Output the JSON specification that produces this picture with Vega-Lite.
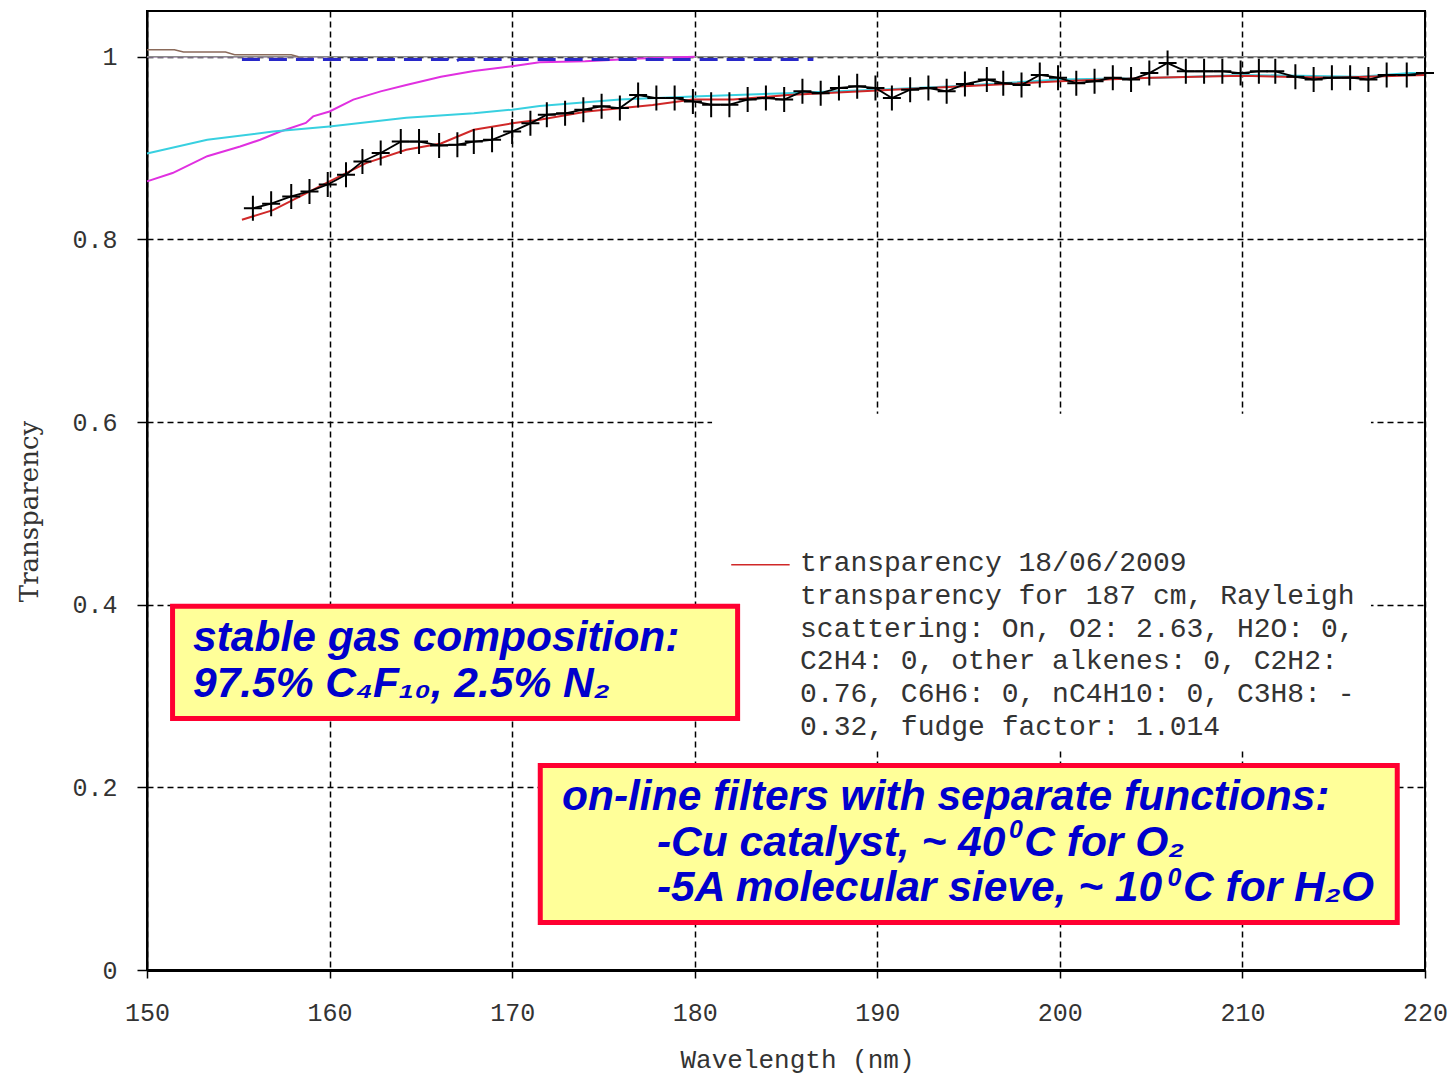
{
  "$schema": "https://vega.github.io/schema/vega-lite/v6.json",
  "width": 1278,
  "height": 959,
  "autosize": {"type": "none"},
  "padding": {"left": 147, "top": 11, "right": 24, "bottom": 104},
  "background": "white",
  "config": {
    "view": {"stroke": "black", "strokeWidth": 2},
    "axis": {
      "grid": true, "gridColor": "black", "gridDash": [6, 4], "gridWidth": 1.5, "gridOpacity": 1,
      "domainColor": "black", "tickColor": "black", "tickWidth": 1.5,
      "labelFont": "Liberation Mono", "labelFontSize": 25, "labelColor": "#333333",
      "labelFlush": false, "labelOverlap": false,
      "titleFontWeight": "normal", "titleColor": "#333333"
    }
  },
  "datasets": {
    "curves": [
      {"s": "gray", "wl": 150, "t": 1.0}, {"s": "gray", "wl": 220, "t": 1.0},
      {"s": "violet", "wl": 150, "t": 1.0}, {"s": "violet", "wl": 160, "t": 1.0},
      {"s": "brown", "wl": 150, "t": 1.0075}, {"s": "brown", "wl": 151.5, "t": 1.0075}, {"s": "brown", "wl": 152, "t": 1.005},
      {"s": "brown", "wl": 154.3, "t": 1.005}, {"s": "brown", "wl": 154.8, "t": 1.002}, {"s": "brown", "wl": 157.9, "t": 1.002}, {"s": "brown", "wl": 158.3, "t": 1.0},
      {"s": "blue", "wl": 155.2, "t": 0.997}, {"s": "blue", "wl": 166.5, "t": 0.997}, {"s": "blue", "wl": 166.8, "t": 0.994}, {"s": "blue", "wl": 167.1, "t": 0.997}, {"s": "blue", "wl": 186.5, "t": 0.997},
      {"s": "magenta", "wl": 150, "t": 0.8635}, {"s": "magenta", "wl": 151.4, "t": 0.8726}, {"s": "magenta", "wl": 153.3, "t": 0.891},
      {"s": "magenta", "wl": 155.1, "t": 0.9017}, {"s": "magenta", "wl": 156.2, "t": 0.909}, {"s": "magenta", "wl": 157.3, "t": 0.918},
      {"s": "magenta", "wl": 158.7, "t": 0.9274}, {"s": "magenta", "wl": 159.1, "t": 0.9346}, {"s": "magenta", "wl": 160, "t": 0.94},
      {"s": "magenta", "wl": 161.3, "t": 0.953}, {"s": "magenta", "wl": 162.8, "t": 0.962}, {"s": "magenta", "wl": 164.2, "t": 0.969},
      {"s": "magenta", "wl": 166.1, "t": 0.978}, {"s": "magenta", "wl": 167.9, "t": 0.9842}, {"s": "magenta", "wl": 170, "t": 0.9896},
      {"s": "magenta", "wl": 171.5, "t": 0.994}, {"s": "magenta", "wl": 174, "t": 0.995}, {"s": "magenta", "wl": 177, "t": 0.998}, {"s": "magenta", "wl": 180, "t": 1.0},
      {"s": "cyan", "wl": 150, "t": 0.894}, {"s": "cyan", "wl": 153.3, "t": 0.909}, {"s": "cyan", "wl": 156.9, "t": 0.918},
      {"s": "cyan", "wl": 160, "t": 0.9236}, {"s": "cyan", "wl": 164.2, "t": 0.933}, {"s": "cyan", "wl": 167.9, "t": 0.938},
      {"s": "cyan", "wl": 170, "t": 0.942}, {"s": "cyan", "wl": 171.5, "t": 0.946}, {"s": "cyan", "wl": 175.9, "t": 0.953},
      {"s": "cyan", "wl": 179.9, "t": 0.9565}, {"s": "cyan", "wl": 185, "t": 0.96}, {"s": "cyan", "wl": 190, "t": 0.9639},
      {"s": "cyan", "wl": 194.1, "t": 0.9675}, {"s": "cyan", "wl": 200, "t": 0.975}, {"s": "cyan", "wl": 205.5, "t": 0.977},
      {"s": "cyan", "wl": 210, "t": 0.98}, {"s": "cyan", "wl": 216.4, "t": 0.978}, {"s": "cyan", "wl": 219.2, "t": 0.982}, {"s": "cyan", "wl": 220, "t": 0.982},
      {"s": "red", "wl": 155.2, "t": 0.8215}, {"s": "red", "wl": 156.9, "t": 0.832}, {"s": "red", "wl": 160, "t": 0.8635},
      {"s": "red", "wl": 162, "t": 0.8835}, {"s": "red", "wl": 164.2, "t": 0.898}, {"s": "red", "wl": 166.1, "t": 0.905},
      {"s": "red", "wl": 167.9, "t": 0.92}, {"s": "red", "wl": 170, "t": 0.927}, {"s": "red", "wl": 171.5, "t": 0.931},
      {"s": "red", "wl": 174.1, "t": 0.94}, {"s": "red", "wl": 177.7, "t": 0.947}, {"s": "red", "wl": 179.9, "t": 0.953},
      {"s": "red", "wl": 182.1, "t": 0.953}, {"s": "red", "wl": 185.1, "t": 0.958}, {"s": "red", "wl": 190, "t": 0.963},
      {"s": "red", "wl": 195, "t": 0.968}, {"s": "red", "wl": 200, "t": 0.973}, {"s": "red", "wl": 205, "t": 0.977},
      {"s": "red", "wl": 210, "t": 0.979}, {"s": "red", "wl": 215, "t": 0.977}, {"s": "red", "wl": 220, "t": 0.98}
    ],
    "crosses": [
      {"wl": 155.8, "t": 0.834}, {"wl": 156.8, "t": 0.839}, {"wl": 157.9, "t": 0.847}, {"wl": 158.9, "t": 0.8525},
      {"wl": 159.9, "t": 0.86}, {"wl": 160.9, "t": 0.8707}, {"wl": 161.8, "t": 0.8853}, {"wl": 162.8, "t": 0.8945},
      {"wl": 163.9, "t": 0.907}, {"wl": 164.9, "t": 0.907}, {"wl": 166.0, "t": 0.9028}, {"wl": 167.0, "t": 0.9036},
      {"wl": 167.9, "t": 0.907}, {"wl": 168.9, "t": 0.909}, {"wl": 170.0, "t": 0.918}, {"wl": 171.0, "t": 0.927},
      {"wl": 171.9, "t": 0.9365}, {"wl": 172.9, "t": 0.938}, {"wl": 173.9, "t": 0.9419}, {"wl": 174.9, "t": 0.9456},
      {"wl": 175.9, "t": 0.9437}, {"wl": 176.9, "t": 0.958}, {"wl": 177.9, "t": 0.9547}, {"wl": 178.9, "t": 0.9547},
      {"wl": 179.9, "t": 0.951}, {"wl": 180.9, "t": 0.9474}, {"wl": 181.9, "t": 0.9474}, {"wl": 182.9, "t": 0.953},
      {"wl": 183.9, "t": 0.9547}, {"wl": 184.9, "t": 0.953}, {"wl": 185.9, "t": 0.962}, {"wl": 186.9, "t": 0.96},
      {"wl": 187.9, "t": 0.9657}, {"wl": 188.9, "t": 0.9675}, {"wl": 189.9, "t": 0.9657}, {"wl": 190.8, "t": 0.9547},
      {"wl": 191.8, "t": 0.9639}, {"wl": 192.8, "t": 0.9657}, {"wl": 193.8, "t": 0.962}, {"wl": 194.8, "t": 0.97},
      {"wl": 196.0, "t": 0.975}, {"wl": 196.9, "t": 0.971}, {"wl": 197.9, "t": 0.969}, {"wl": 198.9, "t": 0.98},
      {"wl": 199.9, "t": 0.977}, {"wl": 200.9, "t": 0.971}, {"wl": 201.9, "t": 0.973}, {"wl": 202.9, "t": 0.977},
      {"wl": 203.9, "t": 0.975}, {"wl": 204.9, "t": 0.982}, {"wl": 205.9, "t": 0.993}, {"wl": 206.9, "t": 0.984},
      {"wl": 207.9, "t": 0.984}, {"wl": 208.9, "t": 0.984}, {"wl": 209.9, "t": 0.982}, {"wl": 210.9, "t": 0.984},
      {"wl": 211.8, "t": 0.984}, {"wl": 212.9, "t": 0.978}, {"wl": 213.9, "t": 0.975}, {"wl": 214.9, "t": 0.977},
      {"wl": 215.9, "t": 0.977}, {"wl": 216.9, "t": 0.975}, {"wl": 217.9, "t": 0.98}, {"wl": 219.0, "t": 0.98},
      {"wl": 220.0, "t": 0.982}
    ],
    "legbox": [{"wl": 180.95, "wl2": 217.04, "t": 0.609, "t2": 0.241}],
    "legline": [{"wl": 182.0, "wl2": 185.2, "t": 0.4436}],
    "legtext": [
      {"wl": 185.77, "t": 0.4458, "label": "transparency 18/06/2009"},
      {"wl": 185.77, "t": 0.4097, "label": "transparency for 187 cm, Rayleigh"},
      {"wl": 185.77, "t": 0.3735, "label": "scattering: On, O2: 2.63, H2O: 0,"},
      {"wl": 185.77, "t": 0.3385, "label": "C2H4: 0, other alkenes: 0, C2H2:"},
      {"wl": 185.77, "t": 0.3023, "label": "0.76, C6H6: 0, nC4H10: 0, C3H8: -"},
      {"wl": 185.77, "t": 0.2662, "label": "0.32, fudge factor: 1.014"}
    ],
    "boxes": [
      {"wl": 151.4, "wl2": 182.35, "t": 0.3982, "t2": 0.2754},
      {"wl": 171.54, "wl2": 218.48, "t": 0.224, "t2": 0.052}
    ],
    "notes": [
      {"wl": 152.52, "t": 0.3636, "label": "stable gas composition:"},
      {"wl": 152.52, "t": 0.3133, "label": "97.5% C₄F₁₀, 2.5% N₂"},
      {"wl": 172.73, "t": 0.1895, "label": "on-line filters with separate functions:"},
      {"wl": 177.93, "t": 0.1391, "label": "-Cu catalyst, ~ 40"},
      {"wl": 198.05, "t": 0.1391, "label": "C for O₂"},
      {"wl": 177.93, "t": 0.0898, "label": "-5A molecular sieve, ~ 10"},
      {"wl": 206.75, "t": 0.0898, "label": "C for H₂O"}
    ],
    "supers": [
      {"wl": 197.22, "t": 0.1533, "label": "0"},
      {"wl": 205.90, "t": 0.1012, "label": "0"}
    ]
  },
  "layer": [
    {
      "data": {"name": "legbox"},
      "mark": {"type": "rect", "fill": "white", "stroke": null},
      "encoding": {
        "x": {"field": "wl", "type": "quantitative", "scale": {"domain": [150, 220], "nice": false, "zero": false},
          "axis": {"title": "Wavelength (nm)", "values": [150, 160, 170, 180, 190, 200, 210, 220], "domainWidth": 3, "tickSize": 8, "labelPadding": 22,
            "titleFont": "Liberation Mono", "titleFontSize": 26, "titleX": 650, "titleY": 89, "titleBaseline": "middle", "titleAlign": "center"}},
        "x2": {"field": "wl2"},
        "y": {"field": "t", "type": "quantitative", "scale": {"domain": [0, 1.05], "nice": false, "zero": false},
          "axis": {"title": "Transparency", "values": [0, 0.2, 0.4, 0.6, 0.8, 1], "format": "~g", "domainWidth": 2, "tickSize": 10, "labelPadding": 20,
            "titleFont": "DejaVu Serif", "titleFontSize": 26, "titleX": -118, "titleY": 500, "titleBaseline": "middle", "titleAlign": "center", "titleAngle": 270}},
        "y2": {"field": "t2"}
      }
    },
    {
      "data": {"name": "curves"},
      "transform": [{"filter": "datum.s === 'violet'"}],
      "mark": {"type": "line", "color": "#c890e8", "strokeWidth": 1.5},
      "encoding": {"x": {"field": "wl", "type": "quantitative"}, "y": {"field": "t", "type": "quantitative"}}
    },
    {
      "data": {"name": "curves"},
      "transform": [{"filter": "datum.s === 'gray'"}],
      "mark": {"type": "line", "color": "#8c8c8c", "strokeWidth": 1.5},
      "encoding": {"x": {"field": "wl", "type": "quantitative"}, "y": {"field": "t", "type": "quantitative"}}
    },
    {
      "data": {"name": "curves"},
      "transform": [{"filter": "datum.s === 'brown'"}],
      "mark": {"type": "line", "color": "#8a6a5a", "strokeWidth": 1.5},
      "encoding": {"x": {"field": "wl", "type": "quantitative"}, "y": {"field": "t", "type": "quantitative"}}
    },
    {
      "data": {"name": "curves"},
      "transform": [{"filter": "datum.s === 'magenta'"}],
      "mark": {"type": "line", "color": "#e030e0", "strokeWidth": 2},
      "encoding": {"x": {"field": "wl", "type": "quantitative"}, "y": {"field": "t", "type": "quantitative"}}
    },
    {
      "data": {"name": "curves"},
      "transform": [{"filter": "datum.s === 'blue'"}],
      "mark": {"type": "line", "color": "#2828c8", "strokeWidth": 3, "strokeDash": [18, 9]},
      "encoding": {"x": {"field": "wl", "type": "quantitative"}, "y": {"field": "t", "type": "quantitative"}}
    },
    {
      "data": {"name": "curves"},
      "transform": [{"filter": "datum.s === 'cyan'"}],
      "mark": {"type": "line", "color": "#38d0e0", "strokeWidth": 2},
      "encoding": {"x": {"field": "wl", "type": "quantitative"}, "y": {"field": "t", "type": "quantitative"}}
    },
    {
      "data": {"name": "curves"},
      "transform": [{"filter": "datum.s === 'red'"}],
      "mark": {"type": "line", "color": "#d02828", "strokeWidth": 2},
      "encoding": {"x": {"field": "wl", "type": "quantitative"}, "y": {"field": "t", "type": "quantitative"}}
    },
    {
      "data": {"name": "crosses"},
      "mark": {"type": "line", "color": "black", "strokeWidth": 1.8, "clip": false},
      "encoding": {"x": {"field": "wl", "type": "quantitative"}, "y": {"field": "t", "type": "quantitative"}}
    },
    {
      "data": {"name": "crosses"},
      "mark": {"type": "point", "shape": "M-0.72,0H0.72M0,-1V1", "size": 625, "filled": false, "stroke": "black", "strokeWidth": 2, "opacity": 1, "clip": false},
      "encoding": {"x": {"field": "wl", "type": "quantitative"}, "y": {"field": "t", "type": "quantitative"}}
    },
    {
      "data": {"name": "legline"},
      "mark": {"type": "rule", "color": "#d02828", "strokeWidth": 1.5},
      "encoding": {"x": {"field": "wl", "type": "quantitative"}, "x2": {"field": "wl2"}, "y": {"field": "t", "type": "quantitative"}}
    },
    {
      "data": {"name": "legtext"},
      "mark": {"type": "text", "align": "left", "baseline": "middle", "font": "Liberation Mono", "fontSize": 28, "color": "#333333"},
      "encoding": {"x": {"field": "wl", "type": "quantitative"}, "y": {"field": "t", "type": "quantitative"}, "text": {"field": "label"}}
    },
    {
      "data": {"name": "boxes"},
      "mark": {"type": "rect", "fill": "#ffff99", "stroke": "#ff0030", "strokeWidth": 5},
      "encoding": {"x": {"field": "wl", "type": "quantitative"}, "x2": {"field": "wl2"}, "y": {"field": "t", "type": "quantitative"}, "y2": {"field": "t2"}}
    },
    {
      "data": {"name": "notes"},
      "mark": {"type": "text", "align": "left", "baseline": "middle", "font": "Liberation Sans", "fontSize": 42.5, "fontStyle": "italic", "fontWeight": "bold", "color": "#0000cc"},
      "encoding": {"x": {"field": "wl", "type": "quantitative"}, "y": {"field": "t", "type": "quantitative"}, "text": {"field": "label"}}
    },
    {
      "data": {"name": "supers"},
      "mark": {"type": "text", "align": "left", "baseline": "middle", "font": "Liberation Sans", "fontSize": 25, "fontStyle": "italic", "fontWeight": "bold", "color": "#0000cc"},
      "encoding": {"x": {"field": "wl", "type": "quantitative"}, "y": {"field": "t", "type": "quantitative"}, "text": {"field": "label"}}
    }
  ]
}
